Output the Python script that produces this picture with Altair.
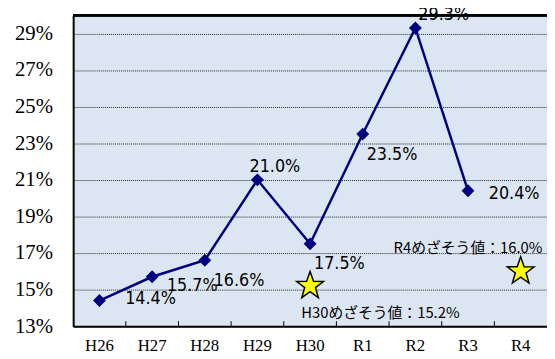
import altair as alt
import pandas as pd

# ---- data ----
years = ["H26", "H27", "H28", "H29", "H30", "R1", "R2", "R3", "R4"]
rate_years = ["H26", "H27", "H28", "H29", "H30", "R1", "R2", "R3"]
rates = [14.4, 15.7, 16.6, 21.0, 17.5, 23.5, 29.3, 20.4]
y_ticks = [13, 15, 17, 19, 21, 23, 25, 27, 29]
target_years = ["H30", "R4"]
target_vals = [15.2, 16.0]
target_texts = ["H30めざそう値：15.2%", "R4めざそう値：16.0%"]

W, H = 480, 315

df = pd.DataFrame({"year": rate_years, "rate": rates,
                   "label": [f"{v:.1f}%" for v in rates]})
tdf = pd.DataFrame({"year": target_years, "val": target_vals, "text": target_texts})
tick_df = pd.DataFrame({"year": years[1:]})

serif = "Liberation Serif, Times New Roman, serif"
xscale = alt.Scale(domain=years, type="band", paddingInner=0, paddingOuter=0)
yscale = alt.Scale(domain=[13, 30], nice=False, zero=False)

xaxis = alt.Axis(title=None, ticks=False, domainColor="black", domainWidth=2,
                 labelFont=serif, labelFontSize=17, labelColor="black",
                 labelPadding=12, grid=False, labelAngle=0)
yaxis = alt.Axis(title=None, ticks=False, values=y_ticks, labelOverlap=False,
                 labelExpr="datum.value + '%'", domainColor="black", domainWidth=2,
                 labelFont=serif, labelFontSize=21, labelColor="black",
                 labelPadding=21, grid=True, gridColor="#222", gridDash=[1, 1],
                 gridWidth=1)

X = alt.X("year:N", scale=xscale, axis=xaxis, bandPosition=0.5)


def Y(field):
    return alt.Y(field, scale=yscale, axis=yaxis)


line = alt.Chart(df).mark_line(color="#000080", strokeWidth=2.5).encode(
    x=X, y=Y("rate:Q"))
pts = alt.Chart(df).mark_point(shape="diamond", size=170, filled=True,
                               color="#000080", opacity=1).encode(
    x=X, y=Y("rate:Q"))

label_off = {"H26": (26, -2), "H27": (15, 9), "H28": (9, 21), "H29": (-8, -13),
             "H30": (4, 20), "R1": (4, 21), "R2": (3, -13), "R3": (21, 3)}
label_font = "Liberation Sans Narrow, Arial Narrow, DejaVu Sans Condensed, sans-serif"
labels = []
for yr, (dx, dy) in label_off.items():
    labels.append(alt.Chart(df).transform_filter(alt.datum.year == yr).mark_text(
        align="left", baseline="middle", dx=dx, dy=dy, font=label_font,
        fontSize=18, color="black").encode(
        x=X, y=Y("rate:Q"), text="label:N"))

star_path = ("M0,-1.05 L0.25,-0.33 L0.97,-0.32 L0.39,0.12 L0.6,0.85 L0,0.42 "
             "L-0.6,0.85 L-0.39,0.12 L-0.97,-0.32 L-0.25,-0.33 Z")
stars = alt.Chart(tdf).mark_point(shape=star_path, size=780, filled=True,
                                  fill="#FFFF00", stroke="black", strokeWidth=1.5,
                                  opacity=1).encode(
    x=X, y=Y("val:Q"))

t1 = alt.Chart(tdf).transform_filter(alt.datum.year == "H30").mark_text(
    align="left", baseline="middle", dx=-9, dy=28, font="Noto Sans CJK JP",
    fontSize=15, color="black").encode(x=X, y=Y("val:Q"), text="text:N")
t2 = alt.Chart(tdf).transform_filter(alt.datum.year == "R4").mark_text(
    align="right", baseline="middle", dx=22, dy=-24, font="Noto Sans CJK JP",
    fontSize=15, color="black").encode(x=X, y=Y("val:Q"), text="text:N")

ticks = alt.Chart(tick_df).mark_rule(color="black", strokeWidth=1).encode(
    x=alt.X("year:N", scale=xscale, axis=xaxis, bandPosition=0),
    y=alt.value(H - 5), y2=alt.value(H))

top = alt.Chart(tick_df).mark_rule(color="black", strokeWidth=2).encode(
    x=alt.value(0), x2=alt.value(W), y=alt.datum(30, scale=yscale, axis=yaxis))

chart = alt.layer(line, pts, *labels, stars, t1, t2, ticks, top).properties(
    width=W, height=H,
    autosize=alt.AutoSizeParams(type="none"),
    padding={"left": 66, "top": 5, "right": 0, "bottom": 31},
).configure_view(fill="#DCE6F2", stroke="#888888", strokeWidth=1)

chart.save("out.html", embed_options={"renderer": "svg", "actions": False})
